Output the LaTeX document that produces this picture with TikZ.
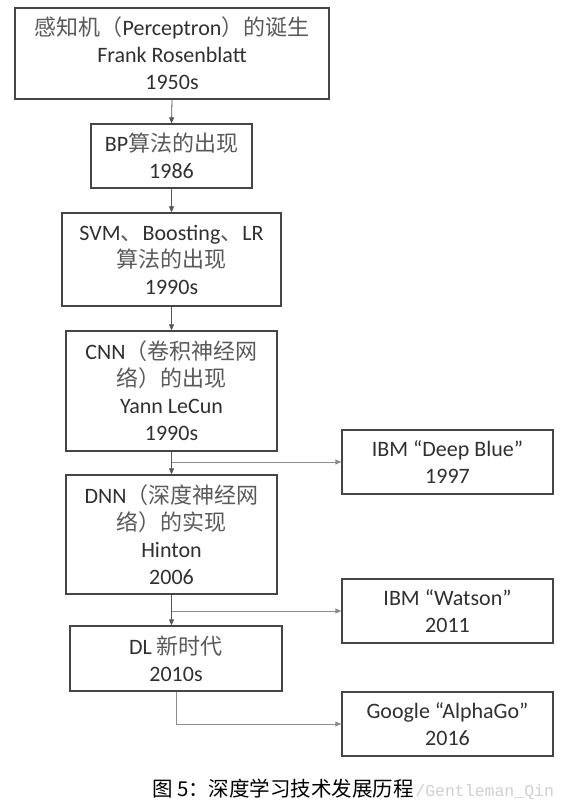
\documentclass[tikz,border=0pt]{standalone}
\usepackage{fontspec}
\setmainfont{Carlito}
\newfontfamily\cjk{Noto Sans CJK SC}
\newfontfamily\wmfont{Liberation Mono}
\usetikzlibrary{arrows.meta}
\definecolor{txtcol}{HTML}{303030}
\definecolor{zhcol}{HTML}{5A5A5A}
\definecolor{boxcol}{HTML}{454545}
\definecolor{linecol}{HTML}{555555}
\definecolor{brcol}{HTML}{8C8C8C}
\definecolor{wmcol}{HTML}{D0D0D0}
\newcommand\zhs[1]{{\cjk\color{zhcol}#1}}
\begin{document}
\begin{tikzpicture}[x=1pt,y=-1pt,
  box/.style={draw=boxcol, line width=1.3pt, rectangle, align=center, inner sep=0pt,
    font=\fontsize{22}{27}\selectfont, text=txtcol},
  arr/.style={draw=linecol, line width=0.8pt, -{Triangle[length=6pt,width=5pt]}},
  brarr/.style={draw=brcol, line width=0.8pt, -{Triangle[length=6pt,width=5pt]}}]
\useasboundingbox[fill=white] (0,0) rectangle (568,810);

\node[box, minimum width=314pt, minimum height=91pt] (b1) at (172,53.5)
  {\zhs{感知机（}Perceptron\zhs{）的诞生}\\Frank Rosenblatt\\1950s};
\node[box, minimum width=161pt, minimum height=64pt] (b2) at (171.5,156)
  {BP\zhs{算法的出现}\\1986};
\node[box, minimum width=219pt, minimum height=93pt] (b3) at (171.5,259.5)
  {SVM\zhs{、}Boosting\zhs{、}LR\\\zhs{算法的出现}\\1990s};
\node[box, minimum width=211pt, minimum height=120pt] (b4) at (171.5,391)
  {CNN\zhs{（卷积神经网}\\\zhs{络）的出现}\\Yann LeCun\\1990s};
\node[box, minimum width=211pt, minimum height=119pt] (b5) at (171.5,534.5)
  {DNN\zhs{（深度神经网}\\\zhs{络）的实现}\\Hinton\\2006};
\node[box, minimum width=212pt, minimum height=65pt] (b6) at (176,658.5)
  {DL \zhs{新时代}\\2010s};
\node[box, minimum width=211pt, minimum height=64pt] (db) at (447.5,462)
  {IBM “Deep Blue”\\1997};
\node[box, minimum width=211pt, minimum height=64pt] (wa) at (447.5,611)
  {IBM “Watson”\\2011};
\node[box, minimum width=211pt, minimum height=64pt] (ag) at (447.5,724)
  {Google “AlphaGo”\\2016};

\draw[arr] (b1.south) -- (b2.north);
\draw[arr] (b2.south) -- (b3.north);
\draw[arr] (b3.south) -- (b4.north);
\draw[arr] (b4.south) -- (b5.north);
\draw[brarr] (b4.south |- db.west) -- (db.west);
\draw[arr] (b5.south) -- (b5.south |- b6.north);
\draw[brarr] (b5.south |- wa.west) -- (wa.west);
\draw[brarr] (b6.south) |- (ag.west);

\node[anchor=base, inner sep=0pt, text=black, font=\cjk\fontsize{20.5}{22}\selectfont] (cap) at (283,796)
  {图 5：深度学习技术发展历程};
\node[anchor=base west, inner sep=0pt, text=wmcol, font=\wmfont\fontsize{16.5}{18}\selectfont] (wm) at ([xshift=1pt]cap.base east)
  {/Gentleman\_Qin};
\end{tikzpicture}
\end{document}
